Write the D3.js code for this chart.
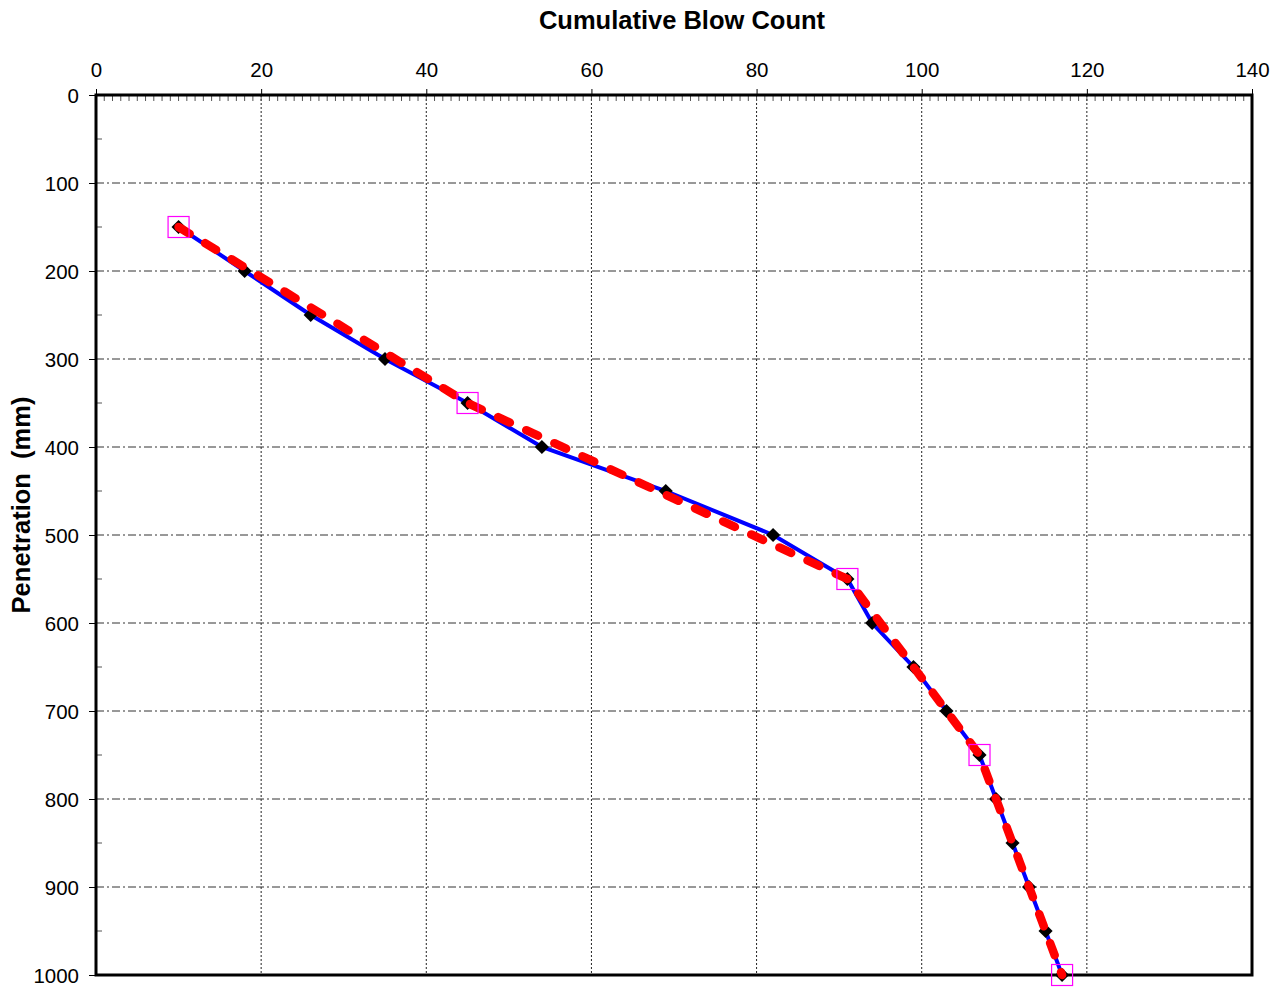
<!DOCTYPE html>
<html>
<head lang="en">
    <meta charset="UTF-8">
    <title></title>
    <script src="https://cdn.jsdelivr.net/npm/d3@7"></script>
    <style>
        body{margin:0;background:#fff;}
        text{font-family:"Liberation Sans",Arial,sans-serif;fill:#000;}
    </style>
</head>
<body>
<script>
    // blow counts vs penetration
    var blows=[10,18,26,35,45,54,69,82,91,94,99,103,107,109,111,113,115,117];
    var depth=[150,200,250,300,350,400,450,500,550,600,650,700,750,800,850,900,950,1000];
    // layer break points (pink squares / red line)
    var fitBlows=[10,45,91,107,117];
    var fitDepth=[150,350,550,750,1000];
    var xTicks=[0,20,40,60,80,100,120,140];
    var yTicks=[0,100,200,300,400,500,600,700,800,900,1000];

    var W=1283,H=987;
    var L=96,T=95,R=1252,B=975;
    var x=d3.scaleLinear().domain([0,140]).range([L,R]);
    var y=d3.scaleLinear().domain([0,1000]).range([T,B]);

    var svg=d3.select("body").append("svg").attr("width",W).attr("height",H);

    // grid
    svg.append("g").selectAll("line")
        .data(xTicks.filter(function(d){return d>0&&d<140;}))
        .enter().append("line")
        .attr("x1",function(d){return x(d);}).attr("x2",function(d){return x(d);})
        .attr("y1",T).attr("y2",B)
        .style("stroke","#222").style("stroke-width",1).style("stroke-dasharray","2,2");
    svg.append("g").selectAll("line")
        .data(yTicks.filter(function(d){return d>0&&d<1000;}))
        .enter().append("line")
        .attr("x1",L).attr("x2",R)
        .attr("y1",function(d){return y(d);}).attr("y2",function(d){return y(d);})
        .style("stroke","#333").style("stroke-width",1).style("stroke-dasharray","8,3,2,3");

    // minor ticks
    svg.append("g").selectAll("line")
        .data(d3.range(0,141,1))
        .enter().append("line")
        .attr("x1",function(d){return x(d);}).attr("x2",function(d){return x(d);})
        .attr("y1",T).attr("y2",T+6)
        .style("stroke","#555").style("stroke-width",1);
    svg.append("g").selectAll("line")
        .data(d3.range(50,1000,100))
        .enter().append("line")
        .attr("x1",L).attr("x2",L+6)
        .attr("y1",function(d){return y(d);}).attr("y2",function(d){return y(d);})
        .style("stroke","#555").style("stroke-width",1);

    // axes
    var xAxis=svg.append("g").attr("transform","translate(0,"+T+")")
        .call(d3.axisTop(x).tickValues(xTicks).tickFormat(d3.format("d")).tickSize(6).tickPadding(12));
    var yAxis=svg.append("g").attr("transform","translate("+L+",0)")
        .call(d3.axisLeft(y).tickValues(yTicks).tickFormat(d3.format("d")).tickSize(7).tickPadding(10));
    [xAxis,yAxis].forEach(function(a){
        a.attr("font-size",null).attr("font-family",null);
        a.select(".domain").remove();
        a.selectAll("line").style("stroke","#000").style("stroke-width",1);
        a.selectAll("text").style("font-size","20.5px");
    });
    yAxis.selectAll("text").attr("dy","0.35em");

    // frame
    svg.append("rect").attr("x",L).attr("y",T).attr("width",R-L).attr("height",B-T)
        .style("fill","none").style("stroke","#000").style("stroke-width",3);

    // data line
    var pts=blows.map(function(b,i){return [b,depth[i]];});
    var fit=fitBlows.map(function(b,i){return [b,fitDepth[i]];});
    var line=d3.line().x(function(d){return x(d[0]);}).y(function(d){return y(d[1]);});

    svg.append("path").attr("d",line(pts))
        .style("fill","none").style("stroke","#0000ff").style("stroke-width",4);

    svg.append("g").selectAll("path")
        .data(pts).enter().append("path")
        .attr("d",d3.symbol().type(d3.symbolSquare).size(100))
        .attr("transform",function(d){return "translate("+x(d[0])+","+y(d[1])+") rotate(45)";})
        .style("fill","#000");

    svg.append("path").attr("d",line(fit))
        .style("fill","none").style("stroke","#ff0000").style("stroke-width",8.5)
        .style("stroke-linecap","round").style("stroke-dasharray","13,18");

    svg.append("g").selectAll("rect")
        .data(fit).enter().append("rect")
        .attr("x",function(d){return x(d[0])-10.5;})
        .attr("y",function(d){return y(d[1])-10.5;})
        .attr("width",21).attr("height",21)
        .style("fill","none").style("stroke","#ff00ff").style("stroke-width",1.2);

    // titles
    svg.append("text").attr("x",(L+R)/2+8).attr("y",29)
        .attr("text-anchor","middle").style("font-size","25.5px").style("font-weight","bold")
        .text("Cumulative Blow Count");
    svg.append("text").attr("transform","translate(30,505) rotate(-90)")
        .attr("text-anchor","middle").style("font-size","25.5px").style("font-weight","bold")
        .style("white-space","pre").attr("xml:space","preserve")
        .text("Penetration  (mm)");
</script>
</body>
</html>
